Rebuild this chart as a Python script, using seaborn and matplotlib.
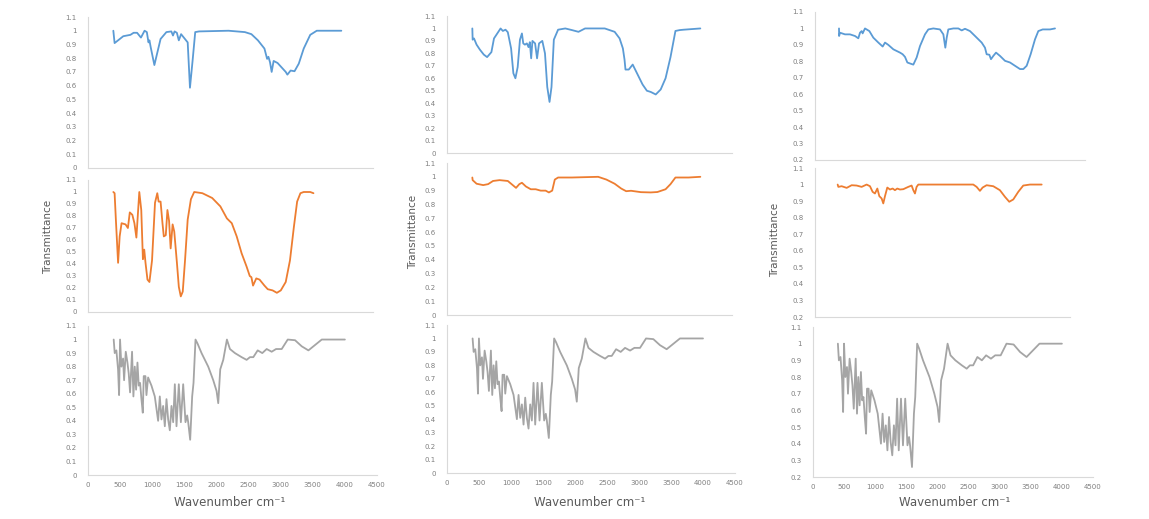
import matplotlib
matplotlib.use("Agg")
import matplotlib.pyplot as plt
import seaborn as sns
import numpy as np
from matplotlib.ticker import MultipleLocator, FuncFormatter

# ---------------- data ----------------
wn_a_blue = [400, 420, 557, 670, 720, 775, 836, 893, 929, 955, 970, 990, 1048, 1084, 1146, 1238, 1316, 1342,
             1367, 1403, 1434, 1470, 1522, 1574, 1610, 1651, 1693, 1754, 2219, 2477, 2580, 2683, 2786, 2828,
             2849, 2874, 2900, 2931, 2993, 3122, 3148, 3199, 3261, 3328, 3406, 3509, 3612, 4000]
t_a_blue = [1.0, 0.91, 0.96, 0.97, 0.985, 0.985, 0.95, 1.0, 0.99, 0.915, 0.93, 0.88, 0.75, 0.82, 0.94, 0.99,
            0.995, 0.965, 0.995, 0.985, 0.93, 0.975, 0.945, 0.915, 0.585, 0.78, 0.99, 0.995, 1.0, 0.99, 0.975,
            0.93, 0.87, 0.795, 0.81, 0.77, 0.70, 0.78, 0.765, 0.70, 0.68, 0.71, 0.705, 0.76, 0.87, 0.97, 1.0, 1.0]

wn_a_orange = [400, 420, 440, 475, 500, 530, 593, 630, 660, 700, 733, 764, 810, 841, 867, 888, 908, 939, 970,
               1011, 1058, 1094, 1115, 1146, 1176, 1197, 1228, 1254, 1280, 1305, 1336, 1362, 1404, 1434, 1465,
               1496, 1532, 1574, 1625, 1677, 1806, 1961, 2090, 2193, 2270, 2348, 2425, 2503, 2554, 2580, 2606,
               2657, 2709, 2786, 2838, 2915, 2982, 3044, 3122, 3189, 3251, 3302, 3354, 3406, 3509, 3560]
t_a_orange = [1.0, 0.99, 0.77, 0.41, 0.63, 0.74, 0.73, 0.70, 0.83, 0.81, 0.74, 0.62, 1.0, 0.85, 0.44, 0.52,
              0.41, 0.27, 0.25, 0.43, 0.91, 0.99, 0.92, 0.92, 0.74, 0.63, 0.64, 0.85, 0.76, 0.53, 0.73, 0.67,
              0.41, 0.21, 0.13, 0.17, 0.43, 0.77, 0.94, 1.0, 0.99, 0.95, 0.88, 0.78, 0.74, 0.63, 0.49, 0.38,
              0.30, 0.29, 0.22, 0.28, 0.27, 0.22, 0.19, 0.18, 0.16, 0.18, 0.25, 0.43, 0.71, 0.92, 0.99, 1.0,
              1.0, 0.99]

wn_b_blue = [400, 405, 426, 467, 519, 581, 633, 701, 742, 794, 846, 882, 924, 960, 1012, 1048, 1080, 1116,
             1152, 1183, 1204, 1230, 1261, 1287, 1308, 1329, 1349, 1391, 1422, 1453, 1505, 1547, 1583, 1619,
             1650, 1687, 1754, 1868, 1972, 2076, 2180, 2491, 2647, 2725, 2777, 2803, 2818, 2870, 2932, 3010,
             3088, 3156, 3218, 3296, 3374, 3451, 3529, 3607, 3675, 3737, 4000]
t_b_blue = [1.0, 0.91, 0.92, 0.87, 0.83, 0.79, 0.77, 0.81, 0.92, 0.96, 1.0, 0.98, 0.99, 0.97, 0.84, 0.64,
            0.60, 0.69, 0.91, 0.96, 0.88, 0.87, 0.88, 0.85, 0.89, 0.76, 0.90, 0.88, 0.76, 0.88, 0.90, 0.80,
            0.53, 0.41, 0.53, 0.91, 0.99, 1.0, 0.987, 0.973, 1.0, 1.0, 0.973, 0.92, 0.84, 0.75, 0.67, 0.67,
            0.71, 0.63, 0.55, 0.50, 0.49, 0.47, 0.51, 0.60, 0.77, 0.98, 0.987, 0.99, 1.0]

wn_b_orange = [400, 405, 467, 571, 649, 727, 830, 960, 1012, 1090, 1142, 1183, 1246, 1323, 1401, 1479, 1557,
               1609, 1661, 1702, 1754, 1972, 2387, 2517, 2647, 2751, 2829, 2906, 3062, 3218, 3322, 3451, 3529,
               3607, 3685, 3815, 4000]
t_b_orange = [0.995, 0.976, 0.95, 0.94, 0.947, 0.97, 0.976, 0.97, 0.95, 0.92, 0.947, 0.957, 0.93, 0.91,
              0.91, 0.90, 0.90, 0.887, 0.90, 0.98, 0.995, 0.995, 1.0, 0.98, 0.95, 0.915, 0.896, 0.899, 0.889,
              0.887, 0.89, 0.91, 0.947, 0.995, 0.995, 0.995, 1.0]

wn_c_blue = [400, 402, 417, 500, 583, 667, 722, 750, 778, 794, 833, 906, 972, 1056, 1128, 1167, 1222, 1306,
             1361, 1417, 1461, 1500, 1539, 1583, 1639, 1694, 1750, 1833, 1889, 1972, 2083, 2139, 2172, 2195,
             2222, 2306, 2389, 2445, 2500, 2583, 2667, 2778, 2833, 2861, 2906, 2933, 2972, 3017, 3083, 3167,
             3250, 3333, 3417, 3472, 3528, 3594, 3667, 3722, 3795, 3917, 4000]
t_c_blue = [1.0, 0.954, 0.974, 0.964, 0.964, 0.954, 0.94, 0.974, 0.984, 0.97, 1.0, 0.984, 0.944, 0.914,
            0.89, 0.914, 0.90, 0.873, 0.863, 0.853, 0.843, 0.827, 0.793, 0.787, 0.78, 0.823, 0.893, 0.964,
            0.994, 1.0, 0.994, 0.964, 0.883, 0.944, 0.994, 1.0, 1.0, 0.988, 0.998, 0.984, 0.954, 0.914,
            0.883, 0.843, 0.84, 0.813, 0.833, 0.853, 0.833, 0.803, 0.793, 0.773, 0.753, 0.753, 0.773, 0.843,
            0.934, 0.984, 0.994, 0.994, 1.0]

wn_c_orange = [400, 412, 470, 559, 647, 735, 823, 911, 970, 1017, 1058, 1100, 1135, 1176, 1205, 1235, 1276,
               1323, 1370, 1411, 1452, 1499, 1558, 1646, 1705, 1735, 1764, 1793, 1823, 2793, 2852, 2911, 2958,
               3028, 3146, 3263, 3352, 3428, 3499, 3587, 3675, 3793, 4000]
t_c_orange = [1.0, 0.986, 0.99, 0.98, 0.996, 0.994, 0.986, 1.0, 0.99, 0.956, 0.946, 0.976, 0.93, 0.916,
              0.886, 0.93, 0.982, 0.97, 0.976, 0.966, 0.976, 0.97, 0.972, 0.986, 0.994, 0.966, 0.946, 0.986,
              1.0, 1.0, 0.986, 0.962, 0.982, 0.996, 0.99, 0.966, 0.926, 0.896, 0.91, 0.956, 0.994, 1.0, 1.0]

wn_gray = [400, 416, 442, 468, 484, 499, 520, 546, 562, 588, 614, 634, 655, 686, 707, 728, 749, 770, 790,
           811, 832, 853, 868, 894, 910, 936, 988, 1040, 1092, 1118, 1144, 1170, 1196, 1222, 1248, 1274, 1300,
           1326, 1352, 1378, 1414, 1446, 1482, 1518, 1544, 1560, 1591, 1622, 1643, 1674, 1706, 1768, 1872,
           1950, 2002, 2028, 2059, 2106, 2163, 2210, 2288, 2392, 2470, 2522, 2574, 2642, 2714, 2782, 2860,
           2928, 3016, 3110, 3224, 3328, 3432, 3510, 3640, 4000]
t_gray = [1.0, 0.90, 0.92, 0.78, 0.59, 1.0, 0.80, 0.86, 0.70, 0.91, 0.83, 0.75, 0.61, 0.91, 0.58, 0.80,
          0.63, 0.83, 0.66, 0.68, 0.56, 0.46, 0.73, 0.73, 0.59, 0.72, 0.66, 0.58, 0.40, 0.58, 0.41, 0.51,
          0.36, 0.56, 0.41, 0.33, 0.51, 0.39, 0.67, 0.36, 0.67, 0.39, 0.67, 0.39, 0.44, 0.39, 0.26, 0.58,
          0.68, 1.0, 0.97, 0.90, 0.80, 0.70, 0.62, 0.53, 0.78, 0.85, 1.0, 0.93, 0.90, 0.87, 0.85, 0.87,
          0.87, 0.92, 0.90, 0.93, 0.91, 0.93, 0.93, 1.0, 0.995, 0.95, 0.92, 0.95, 1.0, 1.0]

x_ticks = [0, 500, 1000, 1500, 2000, 2500, 3000, 3500, 4000, 4500]
y_label = "Transmittance"
x_label = "Wavenumber cm⁻¹"

BLUE, ORANGE, GRAY = "#5B9BD5", "#ED7D31", "#A5A5A5"

# ---------------- figure ----------------
sns.set_theme(style="white")
plt.rcParams['font.family'] = ['DejaVu Sans']

W, H = 1149, 519
fig = plt.figure(figsize=(W / 100, H / 100), dpi=100)
fig.patch.set_facecolor("white")

def add_ax(l, r, t, b):
    return fig.add_axes([l / W, (H - b) / H, (r - l) / W, (b - t) / H])

fmt = FuncFormatter(lambda v, p: "%g" % round(v, 2))

panels = [
    ((88, 373, 17, 168), wn_a_blue, t_a_blue, BLUE, 0.0, False),
    ((88, 373, 180, 312), wn_a_orange, t_a_orange, ORANGE, 0.0, False),
    ((88, 377, 326, 475), wn_gray, t_gray, GRAY, 0.0, True),
    ((447, 732, 16, 153), wn_b_blue, t_b_blue, BLUE, 0.0, False),
    ((447, 732, 163, 315), wn_b_orange, t_b_orange, ORANGE, 0.0, False),
    ((447, 735, 325, 473), wn_gray, t_gray, GRAY, 0.0, True),
    ((815, 1085, 12, 160), wn_c_blue, t_c_blue, BLUE, 0.2, False),
    ((815, 1070, 168, 317), wn_c_orange, t_c_orange, ORANGE, 0.2, False),
    ((813, 1093, 327, 477), wn_gray, t_gray, GRAY, 0.2, True),
]

for box, xs, ys, col, ymin, is_bottom in panels:
    ax = add_ax(*box)
    sns.lineplot(x=xs, y=ys, ax=ax, color=col, linewidth=1.3, sort=False)
    ax.set_xlim(0, 4500)
    ax.set_ylim(ymin, 1.1)
    ax.yaxis.set_major_locator(MultipleLocator(0.1))
    ax.yaxis.set_major_formatter(fmt)
    ax.set_facecolor("none")
    for s in ("top", "right"):
        ax.spines[s].set_visible(False)
    for s in ("left", "bottom"):
        ax.spines[s].set_color("#d9d9d9")
        ax.spines[s].set_linewidth(0.8)
    ax.tick_params(axis="y", length=0, labelsize=5, labelcolor="#7f7f7f", pad=8)
    if is_bottom:
        ax.set_xticks(x_ticks)
        ax.tick_params(axis="x", length=0, labelsize=5, labelcolor="#7f7f7f", pad=5)
    else:
        ax.set_xticks([])
    ax.set_xlabel("")
    ax.set_ylabel("")

# axis titles
for xp, yp in [(48, 237), (413, 232), (775, 240)]:
    fig.text(xp / W, 1 - yp / H, y_label, rotation=90, ha="center", va="center",
             fontsize=7.5, color="#595959")
for xp in [230, 590, 955]:
    fig.text(xp / W, 1 - 503 / H, x_label, ha="center", va="center",
             fontsize=8.5, color="#595959")

fig.savefig("out.png", dpi=100, facecolor="white")
